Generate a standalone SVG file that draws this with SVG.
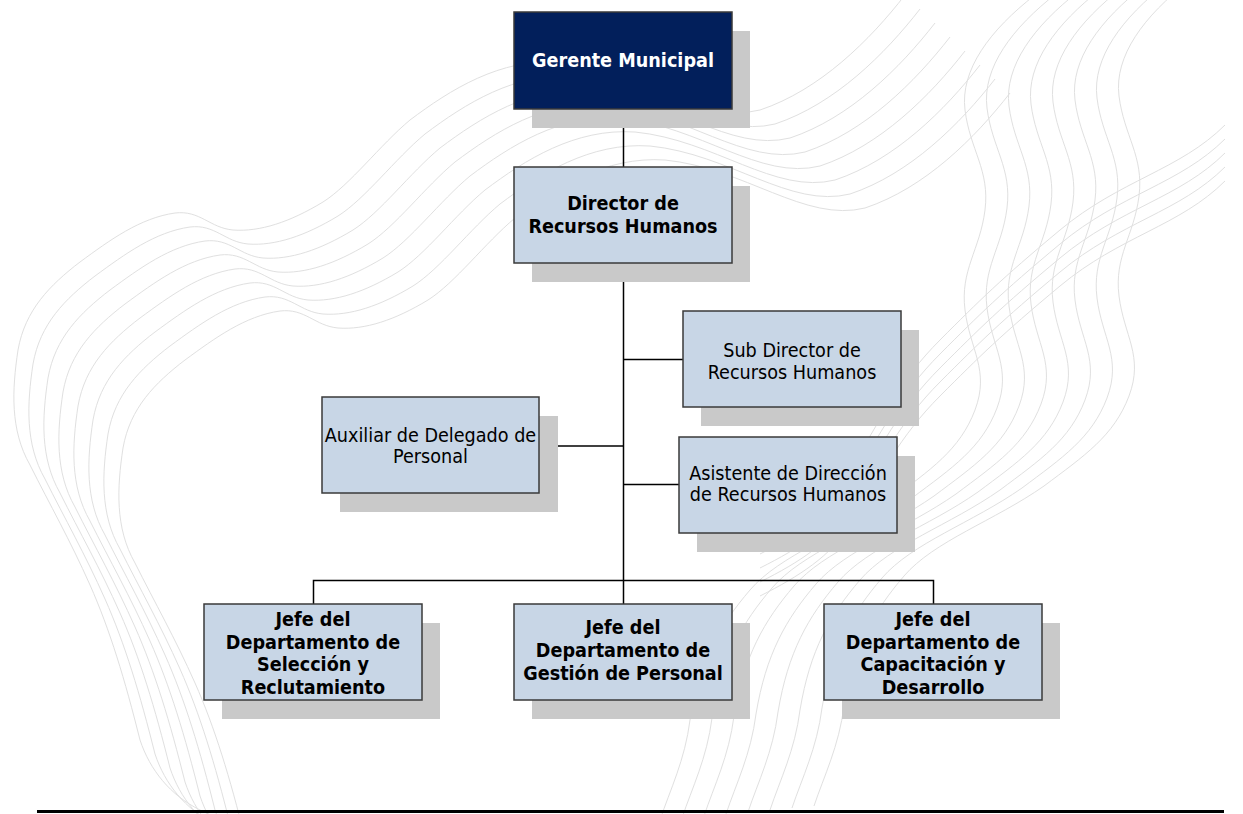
<svg xmlns="http://www.w3.org/2000/svg" xmlns:xlink="http://www.w3.org/1999/xlink" width="1243" height="814" viewBox="0 0 1243 814">
  <style>
    .wave { fill: none; stroke: #e0e0e0; stroke-width: 1; }
    .shadow { fill: #c9c9c9; }
    .box { fill: #c8d6e6; stroke: #3a3a3a; stroke-width: 1.5; }
    .top { fill: #021f5b; stroke: #3a3a3a; stroke-width: 1.5; }
    .lbl { font-family: "DejaVu Sans Condensed", "DejaVu Sans", sans-serif; font-size: 19.6px; text-anchor: middle; fill: #000; }
    .b { font-weight: bold; }
    .w { fill: #ffffff; }
    .conn { stroke: #000; stroke-width: 1.5; fill: none; }
  </style>
  <defs>
    <path id="waveA" d="M 905,-5 C 870,40 820,90 760,110 C 700,125 640,70 560,62 C 500,58 450,90 410,120 C 380,145 350,185 323,202 C 290,222 260,232 233,230 C 210,228 200,210 175,213 C 140,218 110,240 80,262 C 50,285 25,310 18,350 C 12,390 10,430 30,465 C 50,505 70,540 90,585 C 110,630 125,680 140,740 C 150,770 170,795 200,810 C 220,820 250,830 280,840"/>
    <path id="waveB" d="M 1035,-5 C 990,30 960,70 965,110 C 970,150 990,170 985,210 C 980,250 960,270 965,310 C 970,350 990,370 975,410 C 960,450 930,470 890,500 C 840,535 780,555 750,590 C 720,625 700,660 690,720 C 685,760 670,790 660,820"/>
    <path id="waveC" d="M 1225,125 C 1180,170 1120,180 1060,230 C 1000,280 980,300 940,340 C 900,380 880,420 850,470 C 830,500 800,520 760,540"/>
  </defs>

  <rect width="1243" height="814" fill="#ffffff"/>

  <!-- faint background ribbons -->
  <g id="background">
    <use xlink:href="#waveA" class="wave"/>
    <use xlink:href="#waveA" class="wave" transform="translate(15,14)"/>
    <use xlink:href="#waveA" class="wave" transform="translate(30,28)"/>
    <use xlink:href="#waveA" class="wave" transform="translate(45,42)"/>
    <use xlink:href="#waveA" class="wave" transform="translate(60,56)"/>
    <use xlink:href="#waveA" class="wave" transform="translate(75,70)"/>
    <use xlink:href="#waveA" class="wave" transform="translate(90,84)"/>
    <use xlink:href="#waveA" class="wave" transform="translate(105,98)"/>
    <use xlink:href="#waveB" class="wave"/>
    <use xlink:href="#waveB" class="wave" transform="translate(22,-2)"/>
    <use xlink:href="#waveB" class="wave" transform="translate(44,-4)"/>
    <use xlink:href="#waveB" class="wave" transform="translate(66,-6)"/>
    <use xlink:href="#waveB" class="wave" transform="translate(88,-8)"/>
    <use xlink:href="#waveB" class="wave" transform="translate(110,-10)"/>
    <use xlink:href="#waveB" class="wave" transform="translate(132,-12)"/>
    <use xlink:href="#waveB" class="wave" transform="translate(154,-14)"/>
    <use xlink:href="#waveC" class="wave"/>
    <use xlink:href="#waveC" class="wave" transform="translate(0,14)"/>
    <use xlink:href="#waveC" class="wave" transform="translate(0,28)"/>
    <use xlink:href="#waveC" class="wave" transform="translate(0,42)"/>
    <use xlink:href="#waveC" class="wave" transform="translate(0,56)"/>
  </g>

  <!-- connectors -->
  <g id="connectors">
    <line class="conn" x1="623.5" y1="109" x2="623.5" y2="167"/>
    <line class="conn" x1="623.5" y1="263" x2="623.5" y2="604"/>
    <line class="conn" x1="623.5" y1="359.5" x2="683" y2="359.5"/>
    <line class="conn" x1="539" y1="446" x2="623.5" y2="446"/>
    <line class="conn" x1="623.5" y1="484.5" x2="679" y2="484.5"/>
    <polyline class="conn" points="313.5,604 313.5,580.5 933.5,580.5 933.5,604"/>
  </g>

  <g id="gerente">
    <rect class="shadow" x="532" y="31" width="218" height="97"/>
    <rect class="top" x="514" y="12" width="218" height="97"/>
    <text class="lbl b w" x="623" y="67">Gerente Municipal</text>
  </g>

  <g id="director">
    <rect class="shadow" x="532" y="186" width="218" height="96"/>
    <rect class="box" x="514" y="167" width="218" height="96"/>
    <text class="lbl b" x="623" y="210">Director de<tspan x="623" dy="23">Recursos Humanos</tspan></text>
  </g>

  <g id="subdirector">
    <rect class="shadow" x="701" y="330" width="218" height="96"/>
    <rect class="box" x="683" y="311" width="218" height="96"/>
    <text class="lbl" x="792" y="357">Sub Director de<tspan x="792" dy="22">Recursos Humanos</tspan></text>
  </g>

  <g id="auxiliar">
    <rect class="shadow" x="340" y="416" width="218" height="96"/>
    <rect class="box" x="322" y="397" width="217" height="96"/>
    <text class="lbl" x="430.5" y="442">Auxiliar de Delegado de<tspan x="430.5" dy="21">Personal</tspan></text>
  </g>

  <g id="asistente">
    <rect class="shadow" x="697" y="456" width="218" height="96"/>
    <rect class="box" x="679" y="437" width="218" height="96"/>
    <text class="lbl" x="788" y="480">Asistente de Dirección<tspan x="788" dy="21">de Recursos Humanos</tspan></text>
  </g>

  <g id="seleccion">
    <rect class="shadow" x="222" y="623" width="218" height="96"/>
    <rect class="box" x="204" y="604" width="218" height="96"/>
    <text class="lbl b" x="313" y="626">Jefe del<tspan x="313" dy="22.6">Departamento de</tspan><tspan x="313" dy="22.6">Selección y</tspan><tspan x="313" dy="22.6">Reclutamiento</tspan></text>
  </g>

  <g id="gestion">
    <rect class="shadow" x="532" y="623" width="218" height="96"/>
    <rect class="box" x="514" y="604" width="218" height="96"/>
    <text class="lbl b" x="623" y="634">Jefe del<tspan x="623" dy="23">Departamento de</tspan><tspan x="623" dy="23">Gestión de Personal</tspan></text>
  </g>

  <g id="capacitacion">
    <rect class="shadow" x="842" y="623" width="218" height="96"/>
    <rect class="box" x="824" y="604" width="218" height="96"/>
    <text class="lbl b" x="933" y="626">Jefe del<tspan x="933" dy="22.6">Departamento de</tspan><tspan x="933" dy="22.6">Capacitación y</tspan><tspan x="933" dy="22.6">Desarrollo</tspan></text>
  </g>

  <!-- page rule -->
  <rect id="footer-rule" x="37" y="810" width="1187" height="3" fill="#000"/>
</svg>
